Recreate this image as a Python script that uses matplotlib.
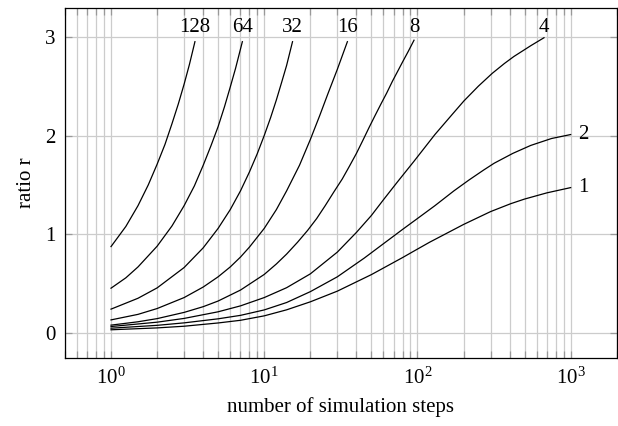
import numpy as np
import matplotlib.pyplot as plt
from matplotlib.ticker import LogLocator, NullFormatter

plt.rcParams['font.family'] = ['Liberation Serif', 'DejaVu Serif']
plt.rcParams['mathtext.fontset'] = 'stix'
plt.rcParams['font.size'] = 15

# values, one curve per parameter value
x_128 = [1, 1.25, 1.5, 1.75, 2, 2.25, 2.5, 2.75, 3, 3.25, 3.53]
r_128 = [0.876, 1.08, 1.29, 1.50, 1.71, 1.91, 2.12, 2.32, 2.52, 2.72, 2.95]

x_64 = [1, 1.25, 1.5, 2, 2.5, 3, 3.5, 4, 4.5, 5, 5.5, 6, 6.5, 7.2]
r_64 = [0.455, 0.56, 0.67, 0.88, 1.085, 1.29, 1.49, 1.70, 1.90, 2.09, 2.29, 2.49, 2.68, 2.95]

x_32 = [1, 1.5, 2, 3, 4, 5, 6, 7, 8, 9, 10, 11, 12, 13, 14, 15.3]
r_32 = [0.243, 0.353, 0.458, 0.664, 0.864, 1.06, 1.25, 1.44, 1.63, 1.815, 2.0, 2.18, 2.36, 2.54, 2.71, 2.95]

x_16 = [1, 1.5, 2, 3, 4, 5, 6, 7, 8, 10, 12, 14, 17, 20, 23, 26, 30, 34.9]
r_16 = [0.134, 0.19, 0.249, 0.36, 0.467, 0.57, 0.67, 0.77, 0.87, 1.06, 1.25, 1.44, 1.70, 1.96, 2.20, 2.42, 2.67, 2.95]

x_8 = [1, 1.5, 2, 3, 4, 5, 7, 10, 12, 14, 16.5, 19.2, 22, 25, 28.5, 32.3, 36, 40, 44,
       48.3, 53, 58, 63, 68.7, 74, 80, 87, 95]
r_8 = [0.081, 0.115, 0.147, 0.21, 0.268, 0.325, 0.436, 0.594, 0.70, 0.80, 0.92, 1.04, 1.16, 1.29, 1.43, 1.56, 1.69, 1.82, 1.95,
       2.08, 2.205, 2.324, 2.43, 2.55, 2.645, 2.745, 2.85, 2.965]

x_4 = [1, 2, 3, 5, 7, 10, 14, 20, 30, 40, 50, 60, 74, 95, 130, 170, 201, 250, 308, 370, 426, 550, 670]
r_4 = [0.067, 0.111, 0.149, 0.216, 0.276, 0.36, 0.46, 0.60, 0.82, 1.02, 1.19, 1.35, 1.53, 1.74, 2.01, 2.22, 2.35, 2.50, 2.63, 2.73, 2.80, 2.91, 2.99]

x_2 = [1, 2, 3, 5, 7, 10, 14, 20, 30, 45, 60, 80, 100, 130, 173, 217, 270, 317, 420, 549, 750, 1000]
r_2 = [0.05, 0.079, 0.104, 0.145, 0.18, 0.235, 0.31, 0.42, 0.57, 0.76, 0.905, 1.05, 1.16, 1.29, 1.44, 1.55, 1.65, 1.72, 1.82, 1.90, 1.97, 2.01]

x_1 = [1, 2, 3, 5, 7, 10, 14, 20, 30, 50, 80, 95, 120, 200, 300, 406, 500, 700, 1000]
r_1 = [0.034, 0.053, 0.07, 0.103, 0.13, 0.175, 0.236, 0.317, 0.425, 0.592, 0.765, 0.831, 0.92, 1.10, 1.23, 1.31, 1.357, 1.42, 1.473]

curves = [(128, x_128, r_128), (64, x_64, r_64), (32, x_32, r_32), (16, x_16, r_16),
          (8, x_8, r_8), (4, x_4, r_4), (2, x_2, r_2), (1, x_1, r_1)]

fig = plt.figure(figsize=(6.18, 4.26), dpi=100)
ax = fig.add_axes([0.105, 0.16, 0.893, 0.821])

for k, xs, rs in curves:
    ax.plot(xs, rs, color='black', lw=0.9)
    if k >= 4:
        ax.text(xs[-1], 3.05, str(k), ha='center', va='baseline')
    else:
        ax.text(xs[-1] * 1.12, rs[-1], str(k), ha='left', va='center')

ax.set_xscale('log')
ax.set_xlim(0.5, 2000)
ax.set_ylim(-0.25, 3.29)
ax.set_yticks([0, 1, 2, 3])
ax.xaxis.set_major_locator(LogLocator(base=10, numticks=10))
ax.xaxis.set_minor_locator(LogLocator(base=10, subs=np.arange(2, 10), numticks=10))
ax.xaxis.set_minor_formatter(NullFormatter())

ax.grid(True, which='major', color='#cccccc', lw=0.9)
ax.grid(True, which='minor', axis='x', color='#cccccc', lw=0.9)
ax.set_axisbelow(True)

ax.tick_params(which='both', direction='in', top=True, right=True, color='#999999', width=0.9)
ax.tick_params(which='major', length=5, pad=7)
ax.tick_params(which='minor', length=5)
for s in ax.spines.values():
    s.set_linewidth(0.9)

ax.set_xlabel('number of simulation steps', labelpad=6)
ax.set_ylabel('ratio r', labelpad=6)

fig.savefig('out.png', dpi=100)
